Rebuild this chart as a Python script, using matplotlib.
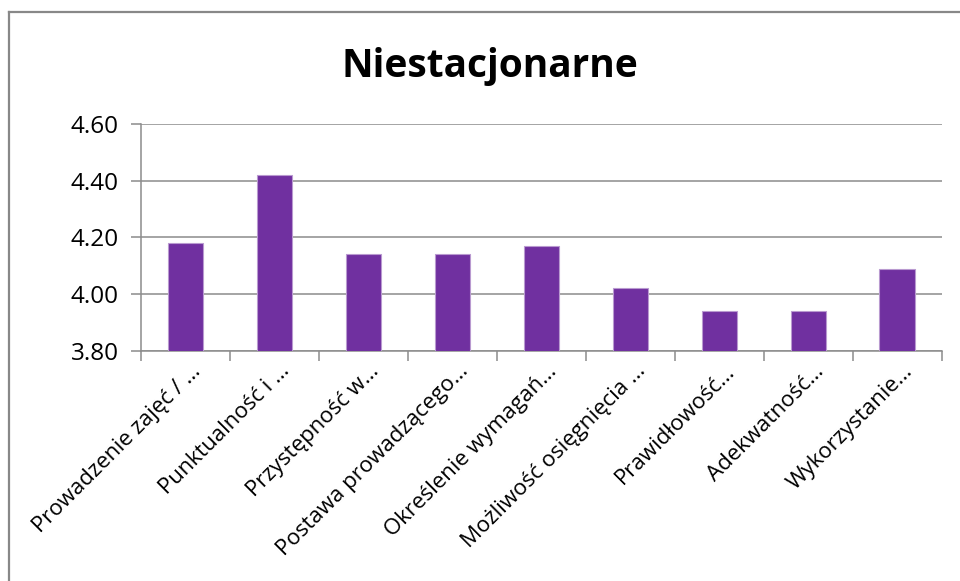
import matplotlib
matplotlib.use("Agg")
from matplotlib import pyplot as plt
from matplotlib.lines import Line2D
import matplotlib.transforms as mtransforms
import numpy as np

plt.rcParams['font.family'] = ['Open Sans', 'DejaVu Sans']

# data
categories = ["Prowadzenie zajęć / …", "Punktualność i …", "Przystępność w…",
              "Postawa prowadzącego…", "Określenie wymagań…", "Możliwość osięgnięcia …",
              "Prawidłowość…", "Adekwatność…", "Wykorzystanie…"]
values = [4.18, 4.42, 4.14, 4.14, 4.17, 4.02, 3.94, 3.94, 4.09]
yticks = [3.80, 4.00, 4.20, 4.40, 4.60]

fig = plt.figure(figsize=(9.6, 5.81), dpi=100)
ax = fig.add_axes([0.147, 0.396, 0.834, 0.391])

x = np.arange(len(categories))
ax.bar(x, values, width=0.40, color='#7030A0', edgecolor='#B99AD0', linewidth=0.8, zorder=3)

ax.set_ylim(3.80, 4.60)
ax.set_xlim(-0.5, len(categories) - 0.5)
ax.set_yticks(yticks)
ax.set_yticklabels(["%.2f" % t for t in yticks])
ax.yaxis.grid(True, color='#8C8C8C', linewidth=1.1)
ax.set_axisbelow(True)

ax.set_xticks(x)
ax.set_xticklabels(categories, rotation=45, ha='right', rotation_mode='anchor')
ax.set_xticks(np.arange(len(categories) + 1) - 0.5, minor=True)
ax.tick_params(axis='x', which='major', length=0, pad=7, labelsize=16)
ax.tick_params(axis='x', which='minor', length=7, color='#8C8C8C', width=1.1)
ax.tick_params(axis='y', length=7, color='#8C8C8C', width=1.1, pad=9, labelsize=17.5)

# nudge category labels a little to the right, like the original
shift = mtransforms.ScaledTranslation(5 / 100, 0, fig.dpi_scale_trans)
for lab in ax.get_xticklabels():
    lab.set_transform(lab.get_transform() + shift)

for s in ['top', 'right']:
    ax.spines[s].set_visible(False)
for s in ['left', 'bottom']:
    ax.spines[s].set_color('#8C8C8C')
    ax.spines[s].set_linewidth(1.1)

fig.text(0.51, 0.885, "Niestacjonarne", ha='center', va='center',
         fontsize=28, fontweight='bold')

# chart border (left and top edges visible)
fig.add_artist(Line2D([0.0094, 0.0094], [0.0, 0.979], color='#888888', linewidth=1.6))
fig.add_artist(Line2D([0.0094, 1.0], [0.979, 0.979], color='#888888', linewidth=1.6))

plt.savefig('out.png', dpi=100)
